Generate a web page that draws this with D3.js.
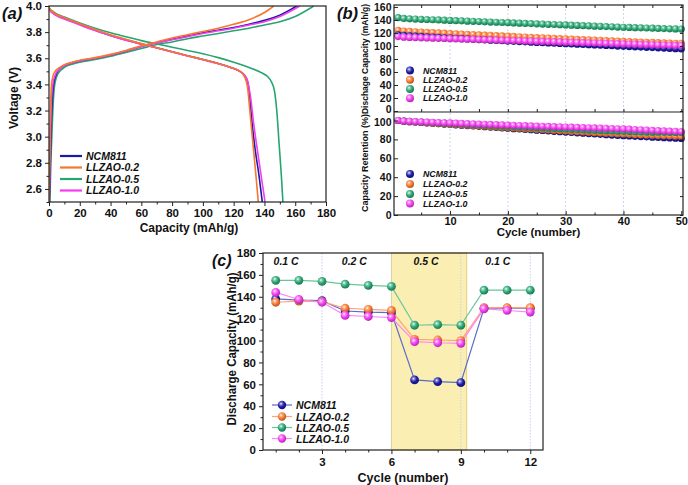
<!DOCTYPE html>
<html><head><meta charset="utf-8">
<script src="https://cdn.jsdelivr.net/npm/d3@7"></script>
<style>
body{margin:0;background:#fff;}
text{font-family:"Liberation Sans",Arial,sans-serif;}
</style></head><body>
<svg id="c" width="688" height="485"></svg>
<script>
// ---------- DATA ----------
const seriesNames = ["NCM811","LLZAO-0.2","LLZAO-0.5","LLZAO-1.0"];
const seriesColors = ["#1a1aa6","#f7772e","#27a571","#f43cf0"];
const lineColorsC = ["#5a6cc8","#ffa27a","#67c79c","#ff86f8"];

// (a) charge / discharge profiles [capacity mAh/g, voltage V]
const chargeNCM = [[0.3,2.5],[1,2.9],[2,3.25],[3,3.4],[4.5,3.47],[7,3.52],[10,3.545],[15,3.565],[20,3.58],[30,3.6],[40,3.625],[50,3.655],[60,3.69],[70,3.72],[80,3.745],[90,3.77],[100,3.795],[110,3.815],[120,3.835],[130,3.86],[140,3.89],[150,3.93],[161,4.0]];
const chargeL02 = [[0,2.5],[0.5,2.9],[1,3.2],[1.5,3.38],[2.5,3.46],[4,3.5],[7,3.53],[10,3.55],[15,3.57],[20,3.585],[30,3.605],[40,3.63],[50,3.66],[60,3.695],[70,3.725],[80,3.755],[90,3.78],[100,3.805],[110,3.83],[120,3.86],[130,3.895],[140,3.95],[146,4.0]];
const chargeL05 = [[0.5,2.5],[1.5,2.9],[2.5,3.2],[3.5,3.38],[5,3.46],[7,3.5],[10,3.53],[15,3.555],[20,3.57],[30,3.59],[40,3.615],[50,3.645],[60,3.675],[70,3.705],[80,3.725],[90,3.75],[100,3.77],[110,3.79],[120,3.81],[130,3.83],[140,3.855],[150,3.88],[160,3.92],[172,4.0]];
const chargeL10 = [[0.1,2.5],[0.7,2.9],[1.5,3.25],[2.5,3.4],[4,3.47],[7,3.52],[10,3.545],[15,3.565],[20,3.58],[30,3.6],[40,3.625],[50,3.655],[60,3.69],[70,3.718],[80,3.742],[90,3.765],[100,3.79],[110,3.81],[120,3.83],[130,3.855],[140,3.88],[150,3.92],[163,4.0]];
const dischNCM = [[0,3.985],[1,3.965],[3,3.945],[5,3.93],[10,3.905],[20,3.86],[30,3.815],[40,3.775],[50,3.74],[60,3.71],[70,3.68],[80,3.65],[90,3.62],[100,3.59],[110,3.56],[118,3.53],[124,3.5],[127,3.47],[129,3.42],[130.5,3.3],[132,3.1],[134,2.9],[136.5,2.7],[138.6,2.5]];
const dischL02 = [[0,3.99],[1,3.97],[3,3.95],[5,3.935],[10,3.91],[20,3.865],[30,3.82],[40,3.78],[50,3.745],[60,3.712],[70,3.68],[80,3.65],[90,3.62],[100,3.59],[110,3.56],[118,3.53],[124,3.5],[127,3.46],[129,3.38],[130.5,3.2],[132.5,2.95],[134.5,2.7],[136,2.5]];
const dischL05 = [[0,3.985],[1,3.97],[3,3.955],[5,3.94],[10,3.915],[20,3.87],[30,3.83],[40,3.795],[50,3.765],[60,3.735],[70,3.71],[80,3.685],[90,3.66],[100,3.635],[110,3.605],[120,3.57],[130,3.53],[138,3.49],[142,3.46],[144.5,3.42],[146.5,3.35],[148,3.2],[149.5,2.95],[151,2.7],[152,2.5]];
const dischL10 = [[0,3.98],[1,3.96],[3,3.94],[5,3.925],[10,3.9],[20,3.855],[30,3.812],[40,3.772],[50,3.738],[60,3.708],[70,3.678],[80,3.648],[90,3.618],[100,3.588],[110,3.558],[118,3.53],[124,3.5],[127,3.47],[129,3.43],[131,3.3],[133,3.1],[136,2.85],[138.5,2.65],[140.4,2.5]];

// (b) 50-cycle data
const cycles = d3.range(1,51);
const capNCM = [117.0,116.2,115.6,115.1,114.6,114.0,113.6,113.1,112.6,112.2,111.7,111.2,110.8,110.3,109.8,109.4,108.9,108.5,108.0,107.6,107.1,106.7,106.3,105.9,105.5,105.1,104.7,104.3,103.9,103.5,103.1,102.7,102.3,101.9,101.5,101.1,100.7,100.3,99.9,99.5,99.1,98.7,98.3,97.9,97.5,97.1,96.7,96.3,95.9,95.5];
const capL02 = [124.0,123.0,122.4,121.9,121.4,120.9,120.5,120.0,119.6,119.2,118.7,118.3,117.9,117.5,117.0,116.6,116.2,115.8,115.4,115.0,114.6,114.2,113.8,113.4,113.0,112.6,112.2,111.8,111.4,111.0,110.6,110.2,109.8,109.4,109.0,108.6,108.2,107.8,107.4,107.0,106.6,106.3,106.0,105.7,105.4,105.1,104.8,104.5,104.2,104.0];
const capL05 = [143.5,142.3,141.8,141.4,141.0,140.7,140.3,140.0,139.6,139.3,138.9,138.6,138.2,137.9,137.5,137.2,136.8,136.5,136.1,135.8,135.4,135.1,134.7,134.4,134.0,133.7,133.3,133.0,132.6,132.3,131.9,131.6,131.2,130.9,130.5,130.2,129.8,129.5,129.1,128.8,128.5,128.2,127.9,127.6,127.3,127.0,126.7,126.4,126.2,126.0];
const capL10 = [114.5,113.5,113.2,112.9,112.6,112.3,112.0,111.8,111.5,111.2,111.0,110.7,110.4,110.2,109.9,109.6,109.4,109.1,108.8,108.6,108.3,108.0,107.8,107.5,107.2,107.0,106.7,106.4,106.2,105.9,105.6,105.4,105.1,104.8,104.6,104.3,104.0,103.8,103.5,103.2,103.0,102.7,102.4,102.2,101.9,101.6,101.4,101.1,100.8,100.6];
const retNCM = [100,99.3,98.8,98.4,98.0,97.5,97.1,96.7,96.2,95.8,95.4,95.0,94.6,94.2,93.8,93.4,93.0,92.6,92.2,91.8,91.4,91.0,90.6,90.2,89.8,89.4,89.0,88.6,88.2,87.8,87.4,87.0,86.6,86.2,85.8,85.4,85.0,84.6,84.2,83.9,83.6,83.3,83.0,82.7,82.4,82.1,81.8,81.5,81.3,81.0];
const retL02 = [100,99.2,98.7,98.3,97.9,97.5,97.1,96.8,96.4,96.0,95.7,95.3,95.0,94.6,94.2,93.9,93.5,93.2,92.8,92.5,92.1,91.8,91.4,91.1,90.7,90.4,90.0,89.7,89.3,89.0,88.6,88.3,87.9,87.6,87.2,86.9,86.6,86.3,86.0,85.7,85.4,85.1,84.8,84.6,84.4,84.2,84.0,83.8,83.6,83.4];
const retL05 = [100,99.4,99.0,98.7,98.4,98.1,97.8,97.5,97.2,96.9,96.6,96.3,96.0,95.7,95.4,95.1,94.8,94.5,94.2,93.9,93.6,93.3,93.0,92.7,92.4,92.1,91.8,91.6,91.3,91.0,90.7,90.5,90.2,89.9,89.7,89.4,89.2,88.9,88.7,88.5,88.3,88.1,87.9,87.8,87.7,87.6,87.5,87.4,87.3,87.2];
const retL10 = [100,99.4,99.1,98.8,98.6,98.3,98.1,97.9,97.6,97.4,97.2,96.9,96.7,96.5,96.2,96.0,95.8,95.6,95.3,95.1,94.9,94.7,94.5,94.3,94.1,93.9,93.7,93.5,93.3,93.1,92.9,92.7,92.5,92.3,92.1,91.9,91.7,91.5,91.3,91.1,90.8,90.5,90.2,89.9,89.6,89.3,89.0,88.7,88.5,88.3];

// (c) rate capability
const rateCycles = [1,2,3,4,5,6,7,8,9,10,11,12];
const rateNCM = [138,137,136.5,127,126,125.5,64,62.5,61.5,129.5,129.5,129.5];
const rateL02 = [135,136,135.5,129.5,128.5,127.5,101,100.5,100,130,130,130];
const rateL05 = [155,155,154,151.5,150.5,149.5,114,114.5,114,146,146,146];
const rateL10 = [144,137.5,135,123,122,121,99,98,97.5,129,127.5,126];
const rateLabels = [{x:1.45,t:"0.1 C"},{x:4.4,t:"0.2 C"},{x:7.5,t:"0.5 C"},{x:10.6,t:"0.1 C"}];
const bandRange = [6,9.25];

// ---------- DRAW ----------
const svg = d3.select("#c");
const defs = svg.append("defs");
seriesColors.forEach((c,i)=>{
  const g = defs.append("radialGradient").attr("id","sph"+i).attr("cx","38%").attr("cy","35%").attr("r","65%");
  g.append("stop").attr("offset","0%").attr("stop-color","#ffffff");
  g.append("stop").attr("offset","22%").attr("stop-color",d3.interpolateRgb(c,"#fff")(0.45));
  g.append("stop").attr("offset","60%").attr("stop-color",c);
  g.append("stop").attr("offset","100%").attr("stop-color",d3.color(c).darker(0.9));
});

function txt(x,y,t,size,opts={}){
  const s = svg.append("text").attr("x",x).attr("y",y).text(t)
    .style("font-size",size+"px").style("font-weight","bold").attr("fill","#111");
  if(opts.italic) s.style("font-style","italic");
  if(opts.anchor) s.attr("text-anchor",opts.anchor);
  if(opts.rotate!==undefined) s.attr("x",null).attr("y",null).attr("transform",`translate(${x},${y}) rotate(${opts.rotate})`);
  if(opts.len) s.attr("textLength",opts.len).attr("lengthAdjust","spacingAndGlyphs");
  return s;
}
function frame(x0,x1,y0,y1){
  svg.append("rect").attr("x",x0).attr("y",y0).attr("width",x1-x0).attr("height",y1-y0)
    .attr("fill","none").attr("stroke","#222").attr("stroke-width",1.2);
}
function styleAxis(g,fs){
  g.selectAll("path").remove();
  g.selectAll("text").style("font-size",fs+"px").style("font-weight","bold").attr("fill","#111");
  g.selectAll("line").attr("stroke","#222");
}
function minor(g){ g.select("path").remove(); g.selectAll("line").attr("stroke","#222"); }

// ===== Panel (a) =====
const ax = d3.scaleLinear().domain([0,180]).range([49,326]);
const ay = d3.scaleLinear().domain([2.5,4.0]).range([202,6]);
{
  const clip = defs.append("clipPath").attr("id","clipA");
  clip.append("rect").attr("x",49).attr("y",6).attr("width",277).attr("height",196);
  const gx = svg.append("g").attr("transform","translate(0,202)")
    .call(d3.axisBottom(ax).tickValues(d3.range(0,181,20)).tickSize(4).tickPadding(3));
  styleAxis(gx,11.5);
  svg.append("g").attr("transform","translate(0,202)")
    .call(d3.axisBottom(ax).tickValues(d3.range(10,180,20)).tickSize(2.5).tickFormat("")).call(minor);
  const gy = svg.append("g").attr("transform","translate(49,0)")
    .call(d3.axisLeft(ay).tickValues(d3.range(2.6,4.01,0.2).map(v=>+v.toFixed(1))).tickFormat(d3.format(".1f")).tickSize(4).tickPadding(3));
  styleAxis(gy,11.5);
  svg.append("g").attr("transform","translate(49,0)")
    .call(d3.axisLeft(ay).tickValues(d3.range(2.5,4.0,0.2).map(v=>+v.toFixed(1))).tickSize(2.5).tickFormat("")).call(minor);
  const line = d3.line().x(d=>ax(d[0])).y(d=>ay(d[1])).curve(d3.curveMonotoneX);
  const curves = [[chargeL05,dischL05,2],[chargeNCM,dischNCM,0],[chargeL10,dischL10,3],[chargeL02,dischL02,1]];
  const gc = svg.append("g").attr("clip-path","url(#clipA)");
  curves.forEach(([c,d,i])=>{
    gc.append("path").datum(c).attr("d",line).attr("fill","none").attr("stroke",seriesColors[i]).attr("stroke-width",1.6);
    gc.append("path").datum(d).attr("d",line).attr("fill","none").attr("stroke",seriesColors[i]).attr("stroke-width",1.6);
  });
  frame(49,326,6,202);
  const ly = [156,167.5,179,190.5];
  seriesNames.forEach((n,i)=>{
    svg.append("line").attr("x1",60).attr("x2",82).attr("y1",ly[i]).attr("y2",ly[i])
      .attr("stroke",seriesColors[i]).attr("stroke-width",2.2);
    txt(86,ly[i]+3.8,n,10.5,{italic:true});
  });
  txt(189,232,"Capacity (mAh/g)",12,{anchor:"middle"});
  txt(18,98,"Voltage (V)",12,{anchor:"middle",rotate:-90});
  txt(2,19,"(a)",16.5,{italic:true});
}

// ===== Panel (b) =====
const bx = d3.scaleLinear().domain([0.3,50.3]).range([394,683]);
const byTop = d3.scaleLinear().domain([0,163]).range([111,5]);
const byBot = d3.scaleLinear().domain([0,109]).range([215,112]);
{
  [10,20,30,40].forEach(v=>{
    svg.append("line").attr("x1",bx(v)).attr("x2",bx(v)).attr("y1",5).attr("y2",215)
      .attr("stroke","#c9d6ef").attr("stroke-width",1).attr("stroke-dasharray","2,2");
  });
  const capSets = [capL05,capL02,capNCM,capL10];
  const capIdx = [2,1,0,3];
  const retSets = [retNCM,retL02,retL05,retL10];
  capSets.forEach((arr,k)=>{
    svg.append("g").selectAll("circle").data(arr).join("circle")
      .attr("cx",(d,j)=>bx(cycles[j])).attr("cy",d=>byTop(d)).attr("r",3.6)
      .attr("fill","url(#sph"+capIdx[k]+")");
  });
  retSets.forEach((arr,k)=>{
    svg.append("g").selectAll("circle").data(arr).join("circle")
      .attr("cx",(d,j)=>bx(cycles[j])).attr("cy",d=>byBot(d)).attr("r",3.6)
      .attr("fill","url(#sph"+k+")");
  });
  const gx = svg.append("g").attr("transform","translate(0,215)")
    .call(d3.axisBottom(bx).tickValues([10,20,30,40,50]).tickSize(-4).tickPadding(2));
  styleAxis(gx,11);
  svg.append("g").attr("transform","translate(0,215)")
    .call(d3.axisBottom(bx).tickValues([5,15,25,35,45]).tickSize(-2.5).tickFormat("")).call(minor);
  svg.append("g").attr("transform","translate(0,5)")
    .call(d3.axisTop(bx).tickValues([5,10,15,20,25,30,35,40,45,50]).tickSize(-3).tickFormat("")).call(minor);
  svg.append("g").attr("transform","translate(0,112)")
    .call(d3.axisBottom(bx).tickValues([5,10,15,20,25,30,35,40,45,50]).tickSize(-3).tickFormat("")).call(minor);
  const gyt = svg.append("g").attr("transform","translate(394,0)")
    .call(d3.axisLeft(byTop).tickValues(d3.range(0,161,20)).tickSize(-4).tickPadding(2.5));
  styleAxis(gyt,10.5);
  gyt.selectAll(".tick").filter(d=>d===0).select("text").attr("y",-1.5);
  const gyb = svg.append("g").attr("transform","translate(394,0)")
    .call(d3.axisLeft(byBot).tickValues(d3.range(0,101,20)).tickSize(-4).tickPadding(2.5));
  styleAxis(gyb,10.5);
  gyb.selectAll(".tick").filter(d=>d===100).select("text").attr("y",1.5);
  [[byTop,d3.range(0,161,20)],[byBot,d3.range(0,101,20)]].forEach(([s,t])=>{
    svg.append("g").attr("transform","translate(683,0)")
      .call(d3.axisRight(s).tickValues(t).tickSize(-3).tickFormat("")).call(minor);
  });
  frame(394,683,5,215);
  svg.append("line").attr("x1",394).attr("x2",683).attr("y1",112).attr("y2",112).attr("stroke","#222").attr("stroke-width",1.2);
  const lyT = [70.5,79.8,89,98.2], lyB = [174,184,194,203.5];
  [lyT,lyB].forEach(ly=>{
    seriesNames.forEach((n,i)=>{
      svg.append("circle").attr("cx",410).attr("cy",ly[i]).attr("r",4).attr("fill","url(#sph"+i+")");
      txt(423,ly[i]+3.2,n,8.8,{italic:true});
    });
  });
  txt(bx(25.3),236,"Cycle (number)",11.5,{anchor:"middle"});
  txt(368,59,"Dischage Capacity (mAh/g)",8.5,{anchor:"middle",rotate:-90});
  txt(368,163,"Capacity Retention (%)",9,{anchor:"middle",rotate:-90});
  txt(337,19,"(b)",16.5,{italic:true});
}

// ===== Panel (c) =====
const cx = d3.scaleLinear().domain([0.45,12.55]).range([263,543]);
const cy = d3.scaleLinear().domain([0,180]).range([450,253]);
{
  svg.append("rect").attr("x",cx(bandRange[0])).attr("y",253).attr("width",cx(bandRange[1])-cx(bandRange[0])).attr("height",197)
    .attr("fill","#fbeeb3").attr("stroke","#e9cf72").attr("stroke-width",1);
  [3,6,9,12].forEach(v=>{
    svg.append("line").attr("x1",cx(v)).attr("x2",cx(v)).attr("y1",253).attr("y2",450)
      .attr("stroke","#c5d2e8").attr("stroke-width",1).attr("stroke-dasharray","1.5,1.5");
  });
  const rates = [rateNCM,rateL02,rateL05,rateL10];
  const line = d3.line().x((d,j)=>cx(rateCycles[j])).y(d=>cy(d));
  rates.forEach((arr,i)=>{
    svg.append("path").datum(arr).attr("d",line).attr("fill","none").attr("stroke",lineColorsC[i]).attr("stroke-width",1.2);
  });
  rates.forEach((arr,i)=>{
    svg.append("g").selectAll("circle").data(arr).join("circle")
      .attr("cx",(d,j)=>cx(rateCycles[j])).attr("cy",d=>cy(d)).attr("r",4.4)
      .attr("fill","url(#sph"+i+")");
  });
  const gx = svg.append("g").attr("transform","translate(0,450)")
    .call(d3.axisBottom(cx).tickValues([3,6,9,12]).tickSize(4).tickPadding(4));
  styleAxis(gx,11.5);
  svg.append("g").attr("transform","translate(0,450)")
    .call(d3.axisBottom(cx).tickValues([1,2,4,5,7,8,10,11]).tickSize(2.5).tickFormat("")).call(minor);
  const gy = svg.append("g").attr("transform","translate(263,0)")
    .call(d3.axisLeft(cy).tickValues(d3.range(0,181,20)).tickSize(4).tickPadding(3));
  styleAxis(gy,11.5);
  svg.append("g").attr("transform","translate(263,0)")
    .call(d3.axisLeft(cy).tickValues(d3.range(10,180,20)).tickSize(2.5).tickFormat("")).call(minor);
  frame(263,543,253,450);
  rateLabels.forEach(r=>{ txt(cx(r.x),265,r.t,10.5,{italic:true,anchor:"middle"}); });
  const ly = [405,416.5,427.5,438.5];
  seriesNames.forEach((n,i)=>{
    svg.append("line").attr("x1",272).attr("x2",292).attr("y1",ly[i]).attr("y2",ly[i]).attr("stroke",lineColorsC[i]).attr("stroke-width",1.2);
    svg.append("circle").attr("cx",282).attr("cy",ly[i]).attr("r",4.2).attr("fill","url(#sph"+i+")");
    txt(296,ly[i]+4,n,10.5,{italic:true});
  });
  txt(403,482,"Cycle (number)",12.5,{anchor:"middle"});
  txt(236,349,"Discharge Capacity (mAh/g)",12,{anchor:"middle",rotate:-90,len:153});
  txt(212,266,"(c)",16,{italic:true});
}
</script>
</body></html>
